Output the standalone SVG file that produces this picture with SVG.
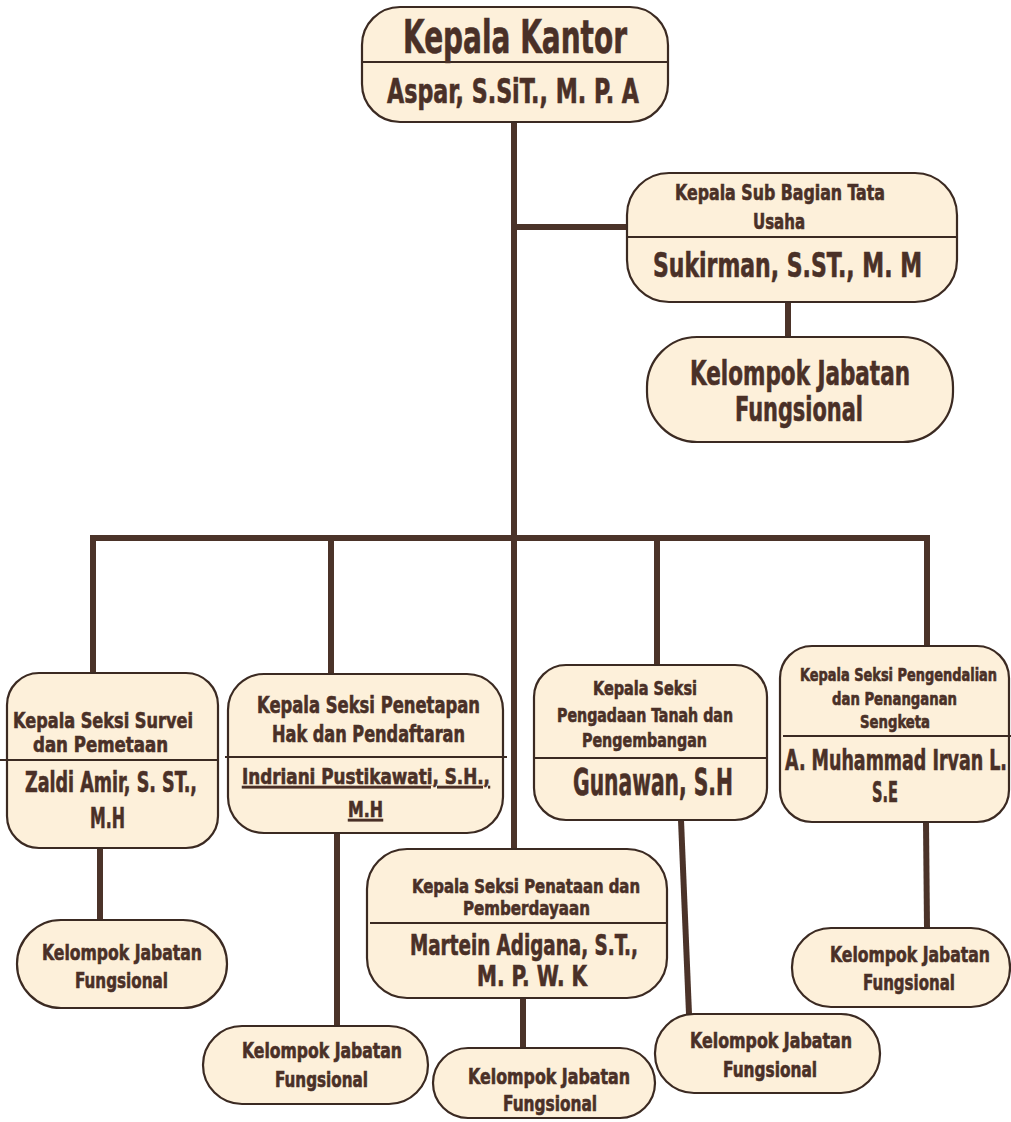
<svg xmlns="http://www.w3.org/2000/svg" width="1011" height="1122" viewBox="0 0 1011 1122">
<style>
.box{fill:#fdf0da;stroke:#3b2a22;stroke-width:2.2}
.div{stroke:#3b2a22;stroke-width:2}
.con{stroke:#4b3329;stroke-width:6;fill:none;stroke-linecap:butt}
text{font-family:'DejaVu Sans Condensed','DejaVu Sans',sans-serif;font-weight:bold;font-stretch:condensed;fill:#4a3027;stroke:#4a3027;stroke-width:0.6}
</style>
<rect width="1011" height="1122" fill="#ffffff"/>
<g id="connectors">
<line class="con" x1="514" y1="121" x2="514" y2="849"/>
<line class="con" x1="511" y1="227" x2="628" y2="227"/>
<line class="con" x1="788" y1="302" x2="788" y2="337"/>
<polyline class="con" points="93,673 93,538 927,538 927,646"/>
<line class="con" x1="331" y1="538" x2="331" y2="673"/>
<line class="con" x1="657" y1="538" x2="657" y2="665"/>
<line class="con" x1="100" y1="848" x2="100" y2="920"/>
<line class="con" x1="337" y1="833" x2="337" y2="1026"/>
<line class="con" x1="523" y1="998" x2="523" y2="1048"/>
<line class="con" x1="681" y1="820" x2="689" y2="1014"/>
<line class="con" x1="926" y1="822" x2="927" y2="928"/>
</g>
<g id="kepala-kantor">
<rect class="box" x="362" y="7" width="306" height="115" rx="38"/>
<line class="div" x1="362" y1="62" x2="668" y2="62"/>
<text x="403" y="53" font-size="46" textLength="224" lengthAdjust="spacingAndGlyphs">Kepala Kantor</text>
<text x="387" y="103" font-size="33" textLength="252" lengthAdjust="spacingAndGlyphs">Aspar, S.SiT., M. P. A</text>
</g>
<g id="sub-bagian">
<rect class="box" x="627" y="173" width="330" height="129" rx="42"/>
<line class="div" x1="627" y1="237" x2="957" y2="237"/>
<text x="675" y="200" font-size="22" textLength="210" lengthAdjust="spacingAndGlyphs">Kepala Sub Bagian Tata</text>
<text x="753" y="229" font-size="22" textLength="52" lengthAdjust="spacingAndGlyphs">Usaha</text>
<text x="653" y="277" font-size="33" textLength="269" lengthAdjust="spacingAndGlyphs">Sukirman, S.ST., M. M</text>
</g>
<g id="kjf-sub">
<rect class="box" x="647" y="337" width="306" height="105" rx="50"/>
<text x="690" y="385" font-size="33" textLength="220" lengthAdjust="spacingAndGlyphs">Kelompok Jabatan</text>
<text x="735" y="421" font-size="33" textLength="128" lengthAdjust="spacingAndGlyphs">Fungsional</text>
</g>
<g id="seksi-survei">
<rect class="box" x="7" y="673" width="211" height="175" rx="32"/>
<line class="div" x1="0" y1="760" x2="218" y2="760"/>
<text x="13" y="728" font-size="22" textLength="180" lengthAdjust="spacingAndGlyphs">Kepala Seksi Survei</text>
<text x="33" y="752" font-size="22" textLength="135" lengthAdjust="spacingAndGlyphs">dan Pemetaan</text>
<text x="25" y="792" font-size="28" textLength="172" lengthAdjust="spacingAndGlyphs">Zaldi Amir, S. ST.,</text>
<text x="90" y="828" font-size="28" textLength="35" lengthAdjust="spacingAndGlyphs">M.H</text>
</g>
<g id="kjf-survei">
<rect class="box" x="17" y="920" width="210" height="88" rx="44"/>
<text x="42" y="960" font-size="22" textLength="160" lengthAdjust="spacingAndGlyphs">Kelompok Jabatan</text>
<text x="75" y="988" font-size="22" textLength="93" lengthAdjust="spacingAndGlyphs">Fungsional</text>
</g>
<g id="seksi-penetapan">
<rect class="box" x="228" y="674" width="275" height="159" rx="36"/>
<line class="div" x1="225" y1="757" x2="507" y2="757"/>
<text x="257" y="713" font-size="23" textLength="223" lengthAdjust="spacingAndGlyphs">Kepala Seksi Penetapan</text>
<text x="272" y="742" font-size="23" textLength="193" lengthAdjust="spacingAndGlyphs">Hak dan Pendaftaran</text>
<text x="242" y="784" font-size="22" textLength="248" lengthAdjust="spacingAndGlyphs" text-decoration="underline">Indriani Pustikawati, S.H.,</text>
<text x="348" y="817" font-size="22" textLength="35" lengthAdjust="spacingAndGlyphs" text-decoration="underline">M.H</text>
</g>
<g id="kjf-penetapan">
<rect class="box" x="203" y="1026" width="225" height="78" rx="39"/>
<text x="242" y="1058" font-size="21" textLength="160" lengthAdjust="spacingAndGlyphs">Kelompok Jabatan</text>
<text x="275" y="1087" font-size="21" textLength="93" lengthAdjust="spacingAndGlyphs">Fungsional</text>
</g>
<g id="seksi-penataan">
<rect class="box" x="367" y="849" width="300" height="149" rx="40"/>
<line class="div" x1="370" y1="923" x2="667" y2="923"/>
<text x="412" y="893" font-size="20" textLength="228" lengthAdjust="spacingAndGlyphs">Kepala Seksi Penataan dan</text>
<text x="463" y="915" font-size="20" textLength="127" lengthAdjust="spacingAndGlyphs">Pemberdayaan</text>
<text x="410" y="955" font-size="28" textLength="228" lengthAdjust="spacingAndGlyphs">Martein Adigana, S.T.,</text>
<text x="477" y="986" font-size="28" textLength="110" lengthAdjust="spacingAndGlyphs">M. P. W. K</text>
</g>
<g id="kjf-penataan">
<rect class="box" x="433" y="1048" width="222" height="70" rx="35"/>
<text x="468" y="1084" font-size="21" textLength="162" lengthAdjust="spacingAndGlyphs">Kelompok Jabatan</text>
<text x="503" y="1111" font-size="21" textLength="94" lengthAdjust="spacingAndGlyphs">Fungsional</text>
</g>
<g id="seksi-pengadaan">
<rect class="box" x="534" y="665" width="233" height="155" rx="32"/>
<line class="div" x1="534" y1="758" x2="767" y2="758"/>
<text x="593" y="695" font-size="20" textLength="104" lengthAdjust="spacingAndGlyphs">Kepala Seksi</text>
<text x="557" y="722" font-size="20" textLength="176" lengthAdjust="spacingAndGlyphs">Pengadaan Tanah dan</text>
<text x="582" y="747" font-size="20" textLength="125" lengthAdjust="spacingAndGlyphs">Pengembangan</text>
<text x="573" y="795" font-size="38" textLength="160" lengthAdjust="spacingAndGlyphs">Gunawan, S.H</text>
</g>
<g id="kjf-pengadaan">
<rect class="box" x="655" y="1014" width="225" height="79" rx="39"/>
<text x="690" y="1048" font-size="21" textLength="162" lengthAdjust="spacingAndGlyphs">Kelompok Jabatan</text>
<text x="723" y="1077" font-size="21" textLength="94" lengthAdjust="spacingAndGlyphs">Fungsional</text>
</g>
<g id="seksi-pengendalian">
<rect class="box" x="780" y="646" width="229" height="176" rx="32"/>
<line class="div" x1="783" y1="736" x2="1011" y2="736"/>
<text x="800" y="681" font-size="18" textLength="197" lengthAdjust="spacingAndGlyphs">Kepala Seksi Pengendalian</text>
<text x="832" y="705" font-size="18" textLength="125" lengthAdjust="spacingAndGlyphs">dan Penanganan</text>
<text x="860" y="728" font-size="18" textLength="70" lengthAdjust="spacingAndGlyphs">Sengketa</text>
<text x="785" y="770" font-size="28" textLength="222" lengthAdjust="spacingAndGlyphs">A. Muhammad Irvan L.</text>
<text x="872" y="802" font-size="28" textLength="26" lengthAdjust="spacingAndGlyphs">S.E</text>
</g>
<g id="kjf-pengendalian">
<rect class="box" x="792" y="928" width="218" height="79" rx="39"/>
<text x="830" y="962" font-size="22" textLength="160" lengthAdjust="spacingAndGlyphs">Kelompok Jabatan</text>
<text x="863" y="990" font-size="22" textLength="92" lengthAdjust="spacingAndGlyphs">Fungsional</text>
</g>
</svg>
